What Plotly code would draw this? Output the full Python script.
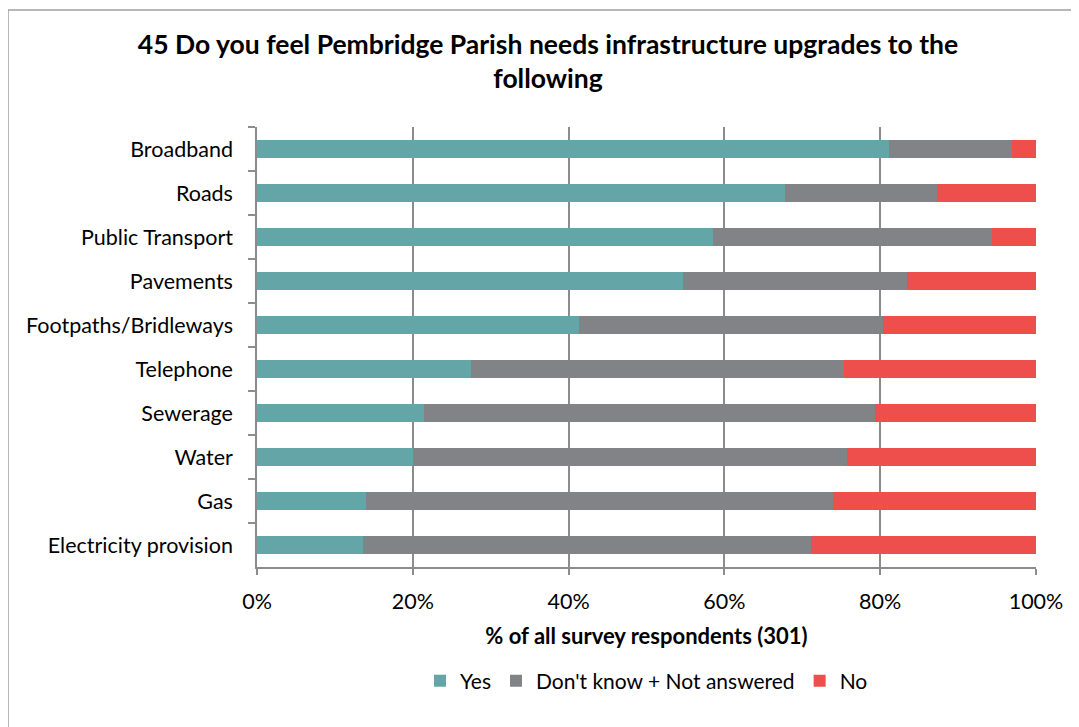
import plotly.graph_objects as go

categories = ["Broadband", "Roads", "Public Transport", "Pavements", "Footpaths/Bridleways",
              "Telephone", "Sewerage", "Water", "Gas", "Electricity provision"]
yes = [81.1, 67.8, 58.5, 54.7, 41.3, 27.5, 21.4, 20.0, 14.0, 13.6]
dont_know = [15.8, 19.5, 35.9, 28.7, 39.1, 47.9, 57.9, 55.8, 60.0, 57.5]
no = [3.1, 12.7, 5.6, 16.6, 19.6, 24.6, 20.7, 24.2, 26.0, 28.9]
series_names = ["Yes", "Don't know + Not answered", "No"]
colors = ["#64A5A7", "#828387", "#EF4F4C"]
x_ticks = [0, 20, 40, 60, 80, 100]
x_tick_labels = ["0%", "20%", "40%", "60%", "80%", "100%"]

FONT = "Lato"
fig = go.Figure()
for name, vals, col in zip(series_names, [yes, dont_know, no], colors):
    fig.add_trace(go.Bar(y=categories, x=vals, name=name, orientation="h",
                         marker=dict(color=col, line=dict(width=0)), width=0.4))

OFF = 8  # page body margin
W, H = 1079, 727
L, T = 257 - OFF, 127 - OFF
R = W - (1036 - OFF)
B = H - (567 - OFF)
pw, ph = W - L - R, H - T - B

def py(ypix):
    return (567 - ypix) / ph

def px(xpix):
    return (xpix - 257) / pw

fig.update_layout(
    width=W, height=H, barmode="stack",
    margin=dict(l=L, r=R, t=T, b=B),
    paper_bgcolor="white", plot_bgcolor="white",
    font=dict(family=FONT, color="#000000", size=21),
    title=dict(text="<b>45 Do you feel Pembridge Parish needs infrastructure upgrades to the<br>following</b>",
               x=(548 - OFF) / W, xanchor="center", xref="container",
               y=1 - 46 / H, yanchor="top", yref="container",
               font=dict(family=FONT, size=26.5, color="#000000")),
    xaxis=dict(range=[0, 100], tickvals=x_ticks, ticktext=x_tick_labels,
               showgrid=True, gridcolor="#8C8C8C", gridwidth=1.5,
               showline=True, linecolor="#8C8C8C", linewidth=1.5,
               ticks="outside", ticklen=6, tickcolor="#8C8C8C", tickwidth=1.5,
               ticklabelstandoff=8, zeroline=False,
               tickfont=dict(size=21.5, family=FONT),
               title=dict(text="<b>% of all survey respondents (301)</b>", standoff=16,
                          font=dict(size=22, family=FONT))),
    yaxis=dict(autorange="reversed", showline=True, linecolor="#8C8C8C", linewidth=1.5,
               ticks="outside", ticklen=7, tickcolor="#8C8C8C", tickwidth=1.5,
               tickson="boundaries", showgrid=False, ticklabelstandoff=18,
               tickfont=dict(size=21.5, family=FONT)),
    legend=dict(orientation="h", x=0.5, xanchor="center", y=py(681), yanchor="middle",
                font=dict(size=21, family=FONT), traceorder="normal",
                itemwidth=30),
    shapes=[dict(type="rect", xref="paper", yref="paper",
                 x0=px(8), x1=2, y0=-2, y1=py(10),
                 line=dict(color="#A0A0A0", width=1.5), layer="below")],
)
fig.write_html("out.html")
